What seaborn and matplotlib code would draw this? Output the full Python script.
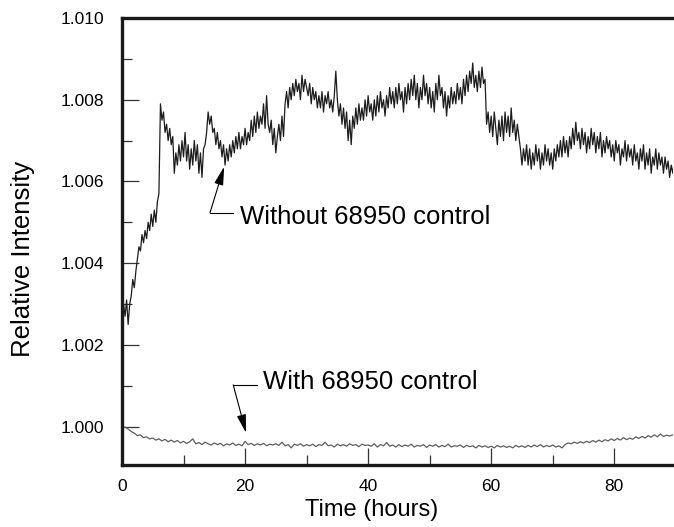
import numpy as np
import pandas as pd
import matplotlib
matplotlib.use("Agg")
import matplotlib.pyplot as plt
from matplotlib.ticker import MultipleLocator, FormatStrFormatter
import seaborn as sns

# ---------------- data ----------------
# Relative intensity expressed as (value - 1) * 1000, sampled every 0.25 h
without_step_h = 0.25
without_ctrl_ppt = [
    1.6, 3.0, 2.7, 3.1,   2.5, 3.0, 3.2, 3.6,   3.4, 3.8, 4.1, 4.4,   4.3, 4.7, 4.5, 4.8,
    4.6, 5.0, 4.8, 5.2,   4.9, 5.3, 5.0, 5.5,   5.7, 7.9, 7.5, 7.7,   7.2, 7.4, 7.0, 7.3,
    6.9, 7.1, 6.2, 6.7,   6.4, 6.9, 6.5, 7.0,   6.6, 7.2, 6.5, 6.9,   6.3, 6.8, 6.4, 7.0,
    6.5, 6.9, 6.2, 6.7,   6.1, 6.8, 6.9, 7.2,   7.7, 7.4, 7.6, 7.2,   7.3, 6.9, 7.2, 6.8,
    7.0, 6.6, 6.9, 6.4,   6.8, 6.5, 6.9, 6.6,   7.0, 6.7, 7.1, 6.8,   7.2, 6.8, 7.1, 6.9,
    7.3, 6.9, 7.2, 7.0,   7.5, 7.1, 7.6, 7.2,   7.7, 7.3, 7.6, 7.4,   7.9, 7.3, 8.1, 7.4,
    7.2, 7.5, 6.9, 7.3,   6.7, 7.1, 7.4, 7.0,   7.6, 7.1, 7.9, 8.2,   7.8, 8.3, 8.0, 8.4,
    8.1, 8.5, 8.2, 8.4,   8.0, 8.6, 8.2, 8.5,   8.3, 8.1, 8.4, 7.9,   8.3, 8.0, 8.2, 7.8,
    8.1, 7.8, 8.2, 7.7,   8.1, 7.9, 8.2, 7.8,   8.0, 7.7, 8.1, 8.7,   8.0, 7.6, 7.9, 7.4,
    7.8, 7.3, 7.7, 7.0,   7.5, 6.9, 7.6, 7.3,   7.8, 7.4, 7.9, 7.5,   7.8, 7.5, 8.0, 7.6,
    8.1, 7.7, 7.9, 7.5,   8.0, 7.6, 8.1, 7.7,   8.2, 7.8, 8.0, 7.6,   8.1, 7.8, 8.3, 7.9,
    8.2, 7.8, 8.3, 7.9,   8.4, 8.0, 8.2, 7.7,   8.3, 7.9, 8.4, 8.0,   8.5, 8.1, 8.6, 8.0,
    8.4, 7.8, 8.3, 8.0,   8.6, 8.1, 8.4, 7.9,   8.3, 7.8, 8.2, 7.7,   8.4, 8.0, 8.6, 8.1,
    8.3, 7.8, 8.2, 7.6,   8.1, 7.8, 8.3, 7.9,   8.2, 7.9, 8.4, 8.0,   8.3, 7.9, 8.5, 8.1,
    8.6, 8.2, 8.7, 8.4,   8.9, 8.3, 8.6, 8.2,   8.7, 8.3, 8.8, 8.4,   8.5, 7.4, 7.7, 7.2,
    7.6, 7.1, 7.7, 7.3,   6.9, 7.5, 7.1, 7.6,   7.0, 7.7, 7.2, 7.6,   7.1, 7.8, 7.2, 7.5,
    7.0, 7.4, 7.1, 6.8,   6.4, 6.8, 6.5, 6.9,   6.4, 6.8, 6.3, 6.7,   6.4, 6.9, 6.5, 6.8,
    6.3, 6.7, 6.4, 6.9,   6.5, 6.8, 6.4, 6.7,   6.3, 6.8, 6.5, 6.9,   6.6, 7.0, 6.6, 7.1,
    6.7, 7.0, 6.6, 7.1,   6.8, 7.3, 6.9, 7.45,  7.0, 7.2, 6.8, 7.3,   6.9, 7.2, 6.7, 7.1,
    6.8, 7.3, 6.9, 7.2,   6.7, 7.1, 6.8, 7.2,   6.6, 7.0, 6.7, 7.1,   6.8, 7.0, 6.6, 6.9,
    6.5, 7.0, 6.7, 6.9,   6.4, 6.8, 6.6, 7.0,   6.5, 6.9, 6.6, 6.8,   6.4, 6.9, 6.5, 6.7,
    6.3, 6.8, 6.5, 6.9,   6.3, 6.7, 6.4, 6.8,   6.2, 6.6, 6.4, 6.8,   6.3, 6.7, 6.4, 6.6,
    6.2, 6.6, 6.3, 6.5,   6.1, 6.4, 6.2, 6.5,
]

# Sampled every 0.5 h
with_step_h = 0.5
with_ctrl_ppt = [
    -0.03, -0.01, -0.06, -0.12, -0.16, -0.22, -0.20, -0.27, -0.25, -0.30,
    -0.28, -0.33, -0.30, -0.35, -0.31, -0.37, -0.33, -0.38, -0.34, -0.40,
    -0.36, -0.41, -0.37, -0.30, -0.42, -0.39, -0.44, -0.38, -0.42, -0.45,
    -0.40, -0.44, -0.41, -0.47, -0.42, -0.45, -0.40, -0.46, -0.43, -0.47,
    -0.36, -0.44, -0.41, -0.46, -0.42, -0.45, -0.41, -0.47, -0.43, -0.45,
    -0.42, -0.46, -0.38, -0.47, -0.44, -0.52, -0.43, -0.46, -0.42, -0.48,
    -0.44, -0.47, -0.43, -0.49, -0.44, -0.46, -0.38, -0.47, -0.45, -0.50,
    -0.43, -0.47, -0.44, -0.48, -0.42, -0.46, -0.44, -0.49, -0.43, -0.46,
    -0.45, -0.48, -0.42, -0.50, -0.44, -0.47, -0.39, -0.48, -0.45, -0.50,
    -0.44, -0.49, -0.45, -0.48, -0.43, -0.50, -0.46, -0.48, -0.44, -0.51,
    -0.45, -0.48, -0.44, -0.50, -0.46, -0.49, -0.43, -0.50, -0.47, -0.48,
    -0.45, -0.51, -0.46, -0.49, -0.47, -0.52, -0.46, -0.50, -0.47, -0.51,
    -0.48, -0.52, -0.46, -0.50, -0.47, -0.51, -0.48, -0.52, -0.46, -0.50,
    -0.47, -0.51, -0.46, -0.50, -0.45, -0.49, -0.44, -0.50, -0.46, -0.49,
    -0.45, -0.50, -0.47, -0.52, -0.44, -0.40, -0.42, -0.38, -0.41, -0.37,
    -0.40, -0.36, -0.39, -0.34, -0.38, -0.33, -0.37, -0.32, -0.35, -0.30,
    -0.34, -0.29, -0.33, -0.27, -0.32, -0.28, -0.31, -0.25, -0.29, -0.24,
    -0.28, -0.22, -0.26, -0.20, -0.25, -0.18, -0.24, -0.21, -0.23, -0.20,
]

x_ticks = [0, 20, 40, 60, 80]
y_ticks = [1.000, 1.002, 1.004, 1.006, 1.008, 1.010]
label_without = "Without 68950 control"
label_with = "With 68950 control"

# ---------------- build tables ----------------
df_without = pd.DataFrame({
    "time": np.arange(len(without_ctrl_ppt)) * without_step_h,
    "intensity": 1.0 + np.array(without_ctrl_ppt) / 1000.0,
})
df_with = pd.DataFrame({
    "time": np.arange(len(with_ctrl_ppt)) * with_step_h,
    "intensity": 1.0 + np.array(with_ctrl_ppt) / 1000.0,
})

# ---------------- plot ----------------
sns.set_theme(style="white")
plt.rcParams["font.family"] = ["Liberation Sans", "DejaVu Sans"]

fig = plt.figure(figsize=(6.74, 5.27), dpi=100)
ax = fig.add_axes([0.181, 0.1176, 0.818, 0.8482])

sns.lineplot(data=df_without, x="time", y="intensity", ax=ax, color="#1c1c1c",
             linewidth=0.9, estimator=None, sort=False)
sns.lineplot(data=df_with, x="time", y="intensity", ax=ax, color="#5e5e5e",
             linewidth=0.9, estimator=None, sort=False)

ax.set_xlim(0, 89.6)
ax.set_ylim(0.99906, 1.0100)

ax.set_xticks(x_ticks)
ax.xaxis.set_minor_locator(MultipleLocator(10))
ax.set_yticks(y_ticks)
ax.yaxis.set_minor_locator(MultipleLocator(0.001))
ax.yaxis.set_major_formatter(FormatStrFormatter("%.3f"))

ax.tick_params(axis="both", which="major", direction="in", length=12, width=0.9,
               color="#333333", labelsize=12.5, labelcolor="black")
ax.tick_params(axis="both", which="minor", direction="in", length=7.5, width=0.9,
               color="#333333")
ax.tick_params(axis="y", which="major", pad=13, left=True)
ax.tick_params(axis="y", which="minor", left=True)
ax.tick_params(axis="x", which="major", pad=10, bottom=True)
ax.tick_params(axis="x", which="minor", bottom=True)

for side in ["left", "bottom", "top"]:
    ax.spines[side].set_visible(True)
    ax.spines[side].set_linewidth(2.4)
    ax.spines[side].set_color("#1a1a1a")
ax.spines["right"].set_visible(False)

ax.set_xlabel("Time (hours)", fontsize=17, color="black", labelpad=2)
ax.xaxis.set_label_coords(0.453, -0.075)
ax.set_ylabel("Relative Intensity", fontsize=18.5, color="black")
ax.yaxis.set_label_coords(-0.157, 0.46)

arrow_kw = dict(arrowstyle="-|>,head_length=0.8,head_width=0.2", mutation_scale=14,
                color="black", lw=0.8, shrinkA=0, shrinkB=0)

# "Without" annotation
ax.plot([14.3, 18.06], [1.005234, 1.005234], color="black", lw=0.8)
ax.annotate("", xy=(16.6, 1.00636), xytext=(14.3, 1.005234), arrowprops=arrow_kw)
ax.text(19.2, 1.00513, label_without, fontsize=18.5, va="center", ha="left", color="black")

# "With" annotation
ax.plot([18.07, 21.96], [1.001023, 1.001023], color="black", lw=0.8)
ax.annotate("", xy=(20.17, 0.999847), xytext=(18.07, 1.001023), arrowprops=arrow_kw)
ax.text(22.9, 1.00109, label_with, fontsize=18.5, va="center", ha="left", color="black")

fig.savefig("out.png", dpi=100)
